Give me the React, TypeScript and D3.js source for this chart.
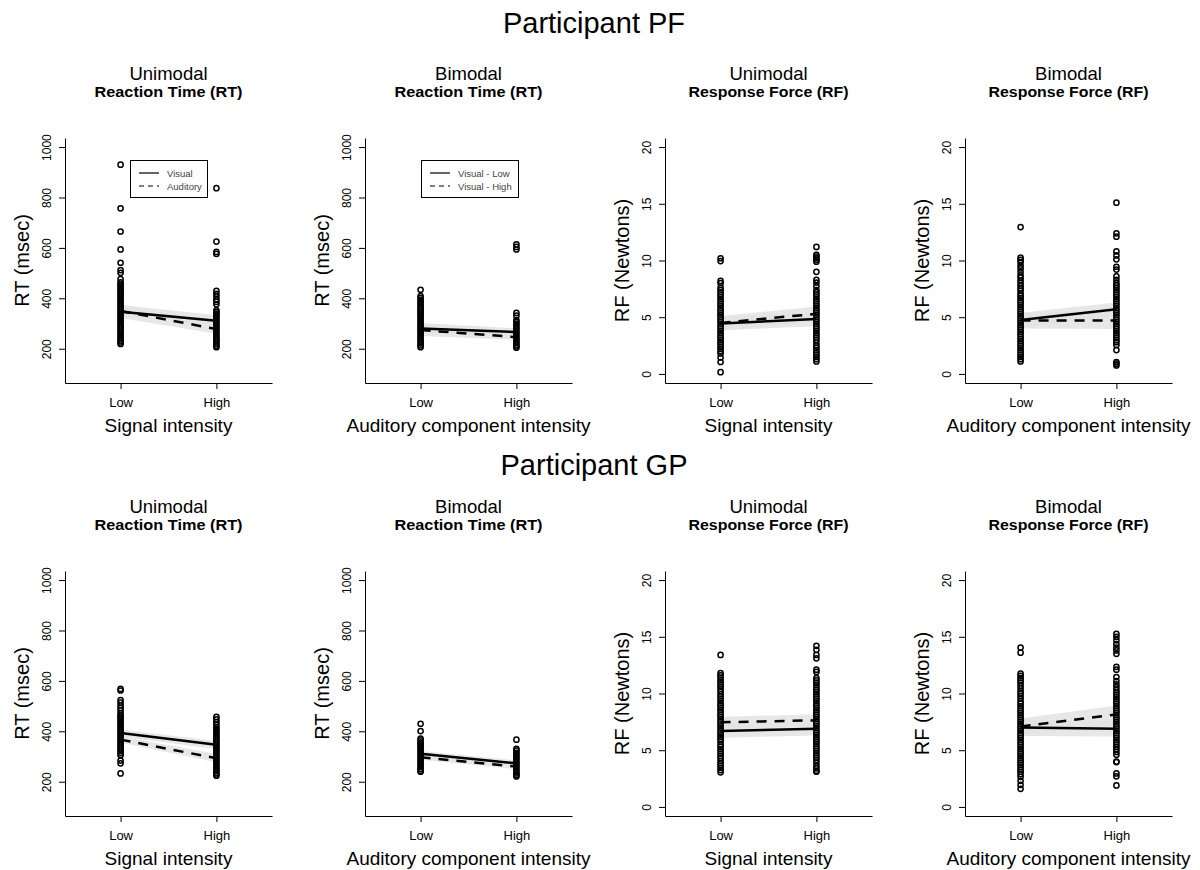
import React, { useRef, useEffect } from "react";
import * as d3 from "d3";

// ---- raw observations (msec for RT, Newtons for RF), Low / High intensity ----
const pfUniRtLow = [930, 757, 665, 594, 541, 512, 501, 476, 463, 456, 449, 441, 434, 427, 419, 412, 404, 397, 389, 382, 374, 367, 359, 352, 344, 337, 329, 322, 314, 307, 299, 292, 284, 277, 269, 262, 254, 247, 239, 232, 225, 219];
const pfUniRtHigh = [837, 625, 584, 576, 430, 418, 407, 395, 386, 376, 352, 345, 338, 330, 323, 315, 308, 300, 293, 285, 278, 270, 263, 255, 248, 240, 233, 226, 219, 212, 206];
const pfBiRtLow = [434, 409, 401, 393, 386, 378, 371, 363, 356, 348, 341, 333, 326, 318, 311, 303, 296, 288, 281, 273, 266, 258, 251, 243, 236, 228, 221, 213, 206];
const pfBiRtHigh = [614, 604, 594, 342, 331, 314, 306, 299, 291, 284, 276, 269, 261, 254, 246, 239, 231, 224, 216, 209, 204];
const pfUniRfLow = [10.2, 9.95, 8.2, 8.0, 7.6, 7.4, 7.2, 7.0, 6.8, 6.6, 6.4, 6.2, 6.0, 5.8, 5.6, 5.4, 5.2, 5.0, 4.8, 4.6, 4.4, 4.2, 4.0, 3.8, 3.6, 3.4, 3.2, 3.0, 2.8, 2.6, 2.4, 2.2, 2.0, 1.8, 1.45, 1.05, 0.15];
const pfUniRfHigh = [11.2, 10.5, 10.35, 10.2, 10.05, 9.9, 9.0, 8.3, 8.05, 7.75, 7.4, 7.2, 7.0, 6.8, 6.6, 6.4, 6.2, 6.0, 5.8, 5.6, 5.4, 5.2, 5.0, 4.8, 4.6, 4.4, 4.2, 4.0, 3.8, 3.6, 3.4, 3.2, 3.0, 2.75, 2.5, 2.3, 2.1, 1.9, 1.7, 1.5, 1.3, 1.1];
const pfBiRfLow = [12.95, 10.25, 10.05, 9.85, 9.55, 9.3, 9.0, 8.7, 8.5, 8.25, 8.0, 7.75, 7.55, 7.35, 7.1, 6.9, 6.7, 6.5, 6.3, 6.1, 5.9, 5.7, 5.5, 5.3, 5.1, 4.9, 4.7, 4.5, 4.3, 4.1, 3.9, 3.7, 3.5, 3.3, 3.1, 2.9, 2.7, 2.5, 2.3, 2.1, 1.9, 1.7, 1.5, 1.3, 1.1];
const pfBiRfHigh = [15.1, 12.4, 12.1, 10.8, 10.45, 10.1, 9.45, 9.2, 8.6, 8.3, 8.0, 7.8, 7.6, 7.4, 7.2, 7.0, 6.8, 6.6, 6.4, 6.2, 6.0, 5.8, 5.6, 5.4, 5.2, 5.0, 4.8, 4.6, 4.4, 4.2, 4.0, 3.8, 3.6, 3.4, 3.2, 3.0, 2.8, 2.55, 2.1, 1.05, 0.9, 0.75];
const gpUniRtLow = [568, 562, 524, 514, 503, 493, 484, 471, 463, 456, 448, 441, 433, 426, 418, 411, 403, 396, 388, 381, 373, 366, 358, 351, 343, 336, 328, 321, 313, 305, 284, 273, 233];
const gpUniRtHigh = [457, 447, 437, 426, 416, 409, 401, 394, 386, 379, 371, 364, 356, 349, 341, 334, 326, 319, 311, 304, 296, 289, 281, 274, 266, 259, 251, 244, 236, 229, 224];
const gpBiRtLow = [430, 401, 371, 364, 356, 349, 341, 334, 326, 319, 311, 304, 296, 289, 281, 274, 266, 259, 251, 244, 240];
const gpBiRtHigh = [367, 330, 323, 315, 308, 300, 293, 285, 278, 270, 263, 255, 248, 240, 233, 226, 221];
const gpUniRfLow = [13.4, 11.8, 11.6, 11.4, 11.2, 11.0, 10.8, 10.6, 10.4, 10.2, 9.95, 9.75, 9.55, 9.35, 9.15, 8.95, 8.75, 8.55, 8.35, 8.15, 7.95, 7.75, 7.55, 7.35, 7.15, 6.95, 6.75, 6.55, 6.35, 6.15, 5.95, 5.75, 5.5, 5.3, 5.1, 4.9, 4.7, 4.5, 4.3, 4.05, 3.85, 3.65, 3.45, 3.25, 3.05];
const gpUniRfHigh = [14.2, 13.85, 13.4, 13.1, 12.1, 11.9, 11.35, 11.15, 10.95, 10.75, 10.55, 10.35, 10.15, 9.95, 9.75, 9.55, 9.35, 9.15, 8.95, 8.75, 8.55, 8.35, 8.15, 7.95, 7.75, 7.55, 7.35, 7.15, 6.95, 6.75, 6.55, 6.35, 6.15, 5.95, 5.75, 5.55, 5.35, 5.15, 4.95, 4.75, 4.55, 4.35, 4.15, 3.9, 3.6, 3.4, 3.2, 3.1];
const gpBiRfLow = [14.05, 13.6, 11.75, 11.55, 11.35, 11.15, 10.95, 10.7, 10.45, 10.2, 10.0, 9.8, 9.55, 9.3, 9.1, 8.9, 8.7, 8.5, 8.3, 8.1, 7.9, 7.7, 7.5, 7.3, 7.1, 6.9, 6.7, 6.5, 6.3, 6.1, 5.9, 5.7, 5.5, 5.3, 5.1, 4.9, 4.7, 4.5, 4.3, 4.1, 3.9, 3.7, 3.5, 3.3, 3.1, 2.9, 2.65, 2.3, 1.95, 1.6];
const gpBiRfHigh = [15.25, 15.0, 14.7, 14.35, 14.05, 13.8, 13.5, 12.35, 12.1, 11.45, 11.1, 10.8, 10.55, 10.3, 10.1, 9.9, 9.7, 9.5, 9.3, 9.1, 8.9, 8.7, 8.5, 8.3, 8.1, 7.9, 7.7, 7.5, 7.3, 7.1, 6.9, 6.7, 6.5, 6.3, 6.1, 5.9, 5.7, 5.5, 5.3, 5.1, 4.85, 4.6, 4.0, 3.95, 2.95, 2.7, 1.9];

// ---- model fits: [Low, High] for fit, ci lower, ci upper ----
// solid = Visual / Visual - Low, dashed = Auditory / Visual - High
const pfUniRtSolid = [[347, 311], [330, 290], [372, 334]];
const pfUniRtDash = [[350, 278], [322, 259], [376, 300]];
const pfBiRtSolid = [[280, 266], [262, 252], [302, 281]];
const pfBiRtDash = [[274, 246], [250, 236], [298, 258]];
const pfUniRfSolid = [[4.45, 4.85], [3.85, 4.2], [5.05, 5.45]];
const pfUniRfDash = [[4.5, 5.3], [3.8, 4.7], [5.1, 5.95]];
const pfBiRfSolid = [[4.75, 5.7], [4.1, 5.1], [5.4, 6.3]];
const pfBiRfDash = [[4.7, 4.7], [4.0, 3.95], [5.4, 5.45]];
const gpUniRtSolid = [[393, 347], [378, 330], [407, 362]];
const gpUniRtDash = [[367, 293], [355, 277], [380, 310]];
const gpBiRtSolid = [[311, 273], [300, 262], [322, 285]];
const gpBiRtDash = [[297, 260], [287, 250], [308, 270]];
const gpUniRfSolid = [[6.7, 6.9], [6.1, 6.3], [7.3, 7.5]];
const gpUniRfDash = [[7.46, 7.64], [6.95, 7.1], [7.95, 8.17]];
const gpBiRfSolid = [[7.0, 6.9], [6.25, 6.2], [7.7, 7.6]];
const gpBiRfDash = [[7.1, 8.15], [6.4, 7.3], [7.8, 8.95]];

const xCats = ["Low", "High"];
const rtTicks = [200, 400, 600, 800, 1000];
const rfTicks = [0, 5, 10, 15, 20];
const participants = ["Participant PF", "Participant GP"];
const uniLegend = ["Visual", "Auditory"];
const biLegend = ["Visual - Low", "Visual - High"];

const panels = [
  { row: 0, col: 0, title: "Unimodal", sub: "Reaction Time (RT)", kind: "RT", xlab: "Signal intensity", low: pfUniRtLow, high: pfUniRtHigh, solid: pfUniRtSolid, dash: pfUniRtDash, legend: uniLegend },
  { row: 0, col: 1, title: "Bimodal", sub: "Reaction Time (RT)", kind: "RT", xlab: "Auditory component intensity", low: pfBiRtLow, high: pfBiRtHigh, solid: pfBiRtSolid, dash: pfBiRtDash, legend: biLegend },
  { row: 0, col: 2, title: "Unimodal", sub: "Response Force (RF)", kind: "RF", xlab: "Signal intensity", low: pfUniRfLow, high: pfUniRfHigh, solid: pfUniRfSolid, dash: pfUniRfDash },
  { row: 0, col: 3, title: "Bimodal", sub: "Response Force (RF)", kind: "RF", xlab: "Auditory component intensity", low: pfBiRfLow, high: pfBiRfHigh, solid: pfBiRfSolid, dash: pfBiRfDash },
  { row: 1, col: 0, title: "Unimodal", sub: "Reaction Time (RT)", kind: "RT", xlab: "Signal intensity", low: gpUniRtLow, high: gpUniRtHigh, solid: gpUniRtSolid, dash: gpUniRtDash },
  { row: 1, col: 1, title: "Bimodal", sub: "Reaction Time (RT)", kind: "RT", xlab: "Auditory component intensity", low: gpBiRtLow, high: gpBiRtHigh, solid: gpBiRtSolid, dash: gpBiRtDash },
  { row: 1, col: 2, title: "Unimodal", sub: "Response Force (RF)", kind: "RF", xlab: "Signal intensity", low: gpUniRfLow, high: gpUniRfHigh, solid: gpUniRfSolid, dash: gpUniRfDash },
  { row: 1, col: 3, title: "Bimodal", sub: "Response Force (RF)", kind: "RF", xlab: "Auditory component intensity", low: gpBiRfLow, high: gpBiRfHigh, solid: gpBiRfSolid, dash: gpBiRfDash },
];

const FONT = "'Liberation Sans', Arial, Helvetica, sans-serif";

const App = () => {
  const svgRef = useRef(null);

  useEffect(() => {
    const svg = d3.select(svgRef.current);
    svg.selectChildren().remove();
    svg.style("font-family", FONT);

    // main titles
    participants.forEach((t, i) => {
      svg.append("text")
        .attr("x", 594)
        .attr("y", i === 0 ? 33 : 475)
        .attr("text-anchor", "middle")
        .style("font-size", "29px")
        .text(t);
    });

    panels.forEach((p) => {
      const x0 = 65 + p.col * 300, x1 = 272 + p.col * 300;
      const y0 = 138 + p.row * 433, y1 = 383 + p.row * 433;
      const cx = (x0 + x1) / 2;
      const isRT = p.kind === "RT";

      const x = d3.scaleLinear().domain([0.42, 2.58]).range([x0, x1]);
      const y = d3.scaleLinear().domain(isRT ? [64, 1036] : [-0.8, 20.8]).range([y1, y0]);

      const g = svg.append("g");

      // titles
      g.append("text").attr("x", cx).attr("y", y0 - 58)
        .attr("text-anchor", "middle").style("font-size", "18.5px").text(p.title);
      g.append("text").attr("x", cx).attr("y", y0 - 41)
        .attr("text-anchor", "middle").style("font-size", "14.5px").style("font-weight", "bold")
        .attr("textLength", isRT ? 148 : 160).attr("lengthAdjust", "spacingAndGlyphs")
        .text(p.sub);

      // confidence bands
      const area = d3.area()
        .x((d) => x(d.x))
        .y0((d) => y(d.lo))
        .y1((d) => y(d.hi));
      [p.solid, p.dash].forEach((f) => {
        const pts = [1, 2].map((xi, k) => ({ x: xi, lo: f[1][k], hi: f[2][k] }));
        g.append("path").datum(pts).attr("d", area)
          .attr("fill", "#e3e3e3").attr("fill-opacity", 0.85);
      });

      // raw points
      [p.low, p.high].forEach((vals, k) => {
        g.append("g").selectAll("circle").data(vals).join("circle")
          .attr("cx", x(k + 1))
          .attr("cy", (d) => y(d))
          .attr("r", 2.6)
          .attr("fill", "none")
          .attr("stroke", "#000")
          .attr("stroke-width", 1.5);
      });

      // fitted lines
      const line = d3.line().x((d) => x(d.x)).y((d) => y(d.v));
      [p.dash, p.solid].forEach((f, k) => {
        const pts = [1, 2].map((xi, j) => ({ x: xi, v: f[0][j] }));
        g.append("path").datum(pts).attr("d", line)
          .attr("fill", "none").attr("stroke", "#000").attr("stroke-width", 2.5)
          .attr("stroke-dasharray", k === 0 ? "10,8" : null);
      });

      // axes
      const ya = d3.axisLeft(y).tickValues(isRT ? rtTicks : rfTicks)
        .tickFormat(d3.format("d")).tickSize(6).tickSizeOuter(0);
      const yg = g.append("g").attr("transform", `translate(${x0},0)`).call(ya);
      yg.attr("font-family", FONT).attr("font-size", 12);
      yg.selectAll(".tick text")
        .attr("transform", "rotate(-90)")
        .attr("x", 0).attr("y", -14).attr("dy", "0")
        .attr("text-anchor", "middle").attr("fill", "#000");

      const xa = d3.axisBottom(x).tickValues([1, 2]).tickFormat((d) => xCats[d - 1]).tickSize(6).tickSizeOuter(0);
      const xg = g.append("g").attr("transform", `translate(0,${y1})`).call(xa);
      xg.attr("font-family", FONT).attr("font-size", 13);
      xg.selectAll(".tick text").attr("y", 24).attr("dy", "0").attr("fill", "#000");

      // axis titles
      g.append("text")
        .attr("transform", `translate(${x0 - 36.5},${(y0 + y1) / 2}) rotate(-90)`)
        .attr("text-anchor", "middle").style("font-size", "20px")
        .text(isRT ? "RT (msec)" : "RF (Newtons)");
      g.append("text").attr("x", cx).attr("y", y1 + 49)
        .attr("text-anchor", "middle").style("font-size", "19px").text(p.xlab);

      // legend
      if (p.legend) {
        const wide = p.col === 1;
        const lx = wide ? x0 + 56 : x0 + 65;
        const w = wide ? 97 : 77;
        const ly = y0 + 22;
        const lg = g.append("g");
        lg.append("rect").attr("x", lx + 0.5).attr("y", ly + 0.5).attr("width", w).attr("height", 37)
          .attr("fill", "#fff").attr("stroke", "#000").attr("stroke-width", 1);
        p.legend.forEach((lab, i) => {
          const yy = ly + 13 + i * 13;
          lg.append("line").attr("x1", lx + 9).attr("x2", lx + 29).attr("y1", yy).attr("y2", yy)
            .attr("stroke", "#000").attr("stroke-width", 1.2)
            .attr("stroke-dasharray", i === 1 ? "5,4" : null);
          lg.append("text").attr("x", lx + 37).attr("y", yy + 3.5)
            .style("font-size", "9.5px").attr("fill", "#444").text(lab);
        });
      }
    });
  });

  return (
    <div>
      <svg ref={svgRef} width={1200} height={870}
        style={{ position: "absolute", left: 0, top: 0, background: "#fff" }}>
      </svg>
    </div>
  );
};

export default App;
